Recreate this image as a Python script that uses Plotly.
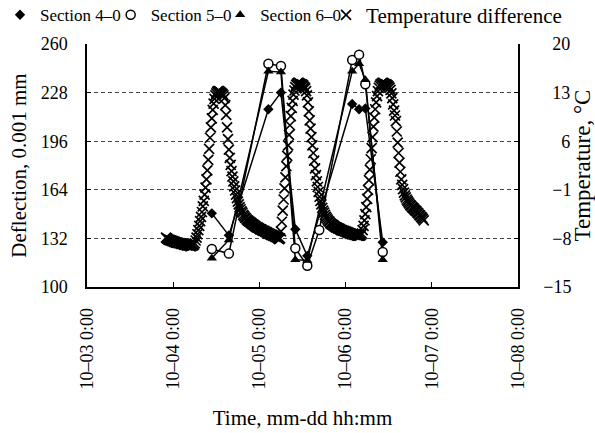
import pandas as pd
import plotly.graph_objects as go

# Temperature difference, 15-min readings starting 10-03 22:00
temp_oct03 = [-7.9, -8.0, -8.1, -8.2, -8.2, -8.3, -8.3, -8.4]
temp_oct04 = [
    -8.4, -8.5, -8.5, -8.6, -8.6, -8.6, -8.7, -8.7,
    -8.7, -8.8, -8.8, -8.8, -8.9, -8.9, -8.9, -9.0,
    -9.0, -9.0, -9.0, -9.1, -9.1, -9.0, -9.0, -8.9,
    -8.7, -8.3, -7.9, -7.4, -6.8, -6.2, -5.5, -4.9,
    -4.2, -3.4, -2.6, -1.7, -0.7, 0.5, 1.8, 3.3,
    4.9, 6.5, 8.0, 9.3, 10.5, 11.4, 12.1, 12.6,
    12.9, 13.1, 13.2, 13.2, 13.1, 13.0, 12.9, 12.8,
    12.6, 12.2, 11.2, 9.8, 8.0, 6.3, 4.8, 3.6,
    2.6, 1.7, 0.9, 0.2, -0.5, -1.1, -1.7, -2.2,
    -2.7, -3.1, -3.5, -3.8, -4.1, -4.3, -4.6, -4.8,
    -5.0, -5.1, -5.3, -5.4, -5.5, -5.6, -5.7, -5.8,
    -5.9, -6.0, -6.1, -6.2, -6.3, -6.4, -6.4, -6.5,
]
temp_oct05 = [
    -6.6, -6.7, -6.7, -6.8, -6.9, -6.9, -7.0, -7.1,
    -7.1, -7.2, -7.3, -7.3, -7.4, -7.5, -7.5, -7.6,
    -7.6, -7.7, -7.8, -7.8, -7.9, -8.0, -8.1, -8.0,
    -7.0, -5.6, -4.0, -2.4, -0.8, 0.8, 2.4, 3.9,
    5.4, 6.9, 8.3, 9.6, 10.8, 11.8, 12.7, 13.3,
    13.8, 14.1, 14.3, 14.4, 14.4, 14.3, 14.2, 14.2,
    14.1, 14.0, 13.8, 13.6, 13.2, 12.6, 11.6, 10.3,
    9.0, 7.8, 6.6, 5.4, 4.3, 3.2, 2.1, 1.1,
    0.2, -0.6, -1.3, -2.0, -2.6, -3.1, -3.6, -4.0,
    -4.3, -4.6, -4.9, -5.1, -5.3, -5.5, -5.6, -5.8,
    -5.9, -6.0, -6.1, -6.2, -6.3, -6.4, -6.4, -6.5,
    -6.6, -6.6, -6.7, -6.8, -6.8, -6.9, -6.9, -7.0,
]
temp_oct06 = [
    -7.0, -7.1, -7.1, -7.2, -7.2, -7.3, -7.3, -7.4,
    -7.4, -7.4, -7.5, -7.5, -7.5, -7.6, -7.6, -7.6,
    -7.6, -7.5, -7.3, -6.8, -6.2, -5.4, -4.5, -3.5,
    -2.3, -1.0, 0.4, 1.9, 3.4, 5.0, 6.6, 8.1,
    9.4, 10.6, 11.6, 12.5, 13.2, 13.7, 14.0, 14.2,
    14.3, 14.4, 14.4, 14.3, 14.2, 14.2, 14.1, 14.0,
    13.9, 13.7, 13.4, 12.9, 12.2, 11.3, 10.4, 9.7,
    8.9, 7.4, 5.8, 4.3, 2.9, 1.6, 0.5, -0.3,
    -0.9, -1.4, -1.8, -2.1, -2.4, -2.6, -2.8, -3.0,
    -3.2, -3.3, -3.5, -3.6, -3.7, -3.9, -4.0, -4.1,
    -4.3, -4.4, -4.6, -4.7, -4.9, -5.0, -5.2, -5.4,
]
temp_diff = temp_oct03 + temp_oct04 + temp_oct05 + temp_oct06
temp_time = pd.date_range("2020-10-03 22:00", periods=len(temp_diff), freq="15min")

# Deflection measurements (0.001 mm)
sec_time = ["2020-10-04 10:45", "2020-10-04 15:30", "2020-10-05 02:30", "2020-10-05 06:00",
            "2020-10-05 10:00", "2020-10-05 13:20", "2020-10-06 01:50", "2020-10-06 03:45",
            "2020-10-06 05:30", "2020-10-06 10:20"]
sec4 = [148.5, 134, 217, 228, 138, 120.5, 220.5, 217, 217.5, 129.5]
sec6 = [119, 131, 242, 241.5, 118, 117.5, 242, 247, 236.5, 118]
sec5_time = ["2020-10-04 10:45", "2020-10-04 15:30", "2020-10-05 02:30", "2020-10-05 06:00",
             "2020-10-05 10:00", "2020-10-05 13:20", "2020-10-05 16:40", "2020-10-06 01:50",
             "2020-10-06 03:45", "2020-10-06 05:30", "2020-10-06 10:20"]
sec5 = [125, 122, 247, 245.5, 125.5, 114, 137.5, 249.5, 253, 233.5, 123]

x_ticks = ["2020-10-03", "2020-10-04", "2020-10-05", "2020-10-06", "2020-10-07", "2020-10-08"]
x_ticktext = ["10\u201303 0:00", "10\u201304 0:00", "10\u201305 0:00", "10\u201306 0:00",
              "10\u201307 0:00", "10\u201308 0:00"]
defl_ticks = [100, 132, 164, 196, 228, 260]
temp_ticks = [-15, -8, -1, 6, 13, 20]
temp_ticktext = ["\u221215", "\u2007\u22128", "\u2007\u22121", "\u2007\u20076", "\u200713", "\u200720"]

FONT = "Liberation Serif"
fig = go.Figure()

fig.add_trace(go.Scatter(
    x=temp_time, y=temp_diff, mode="markers", name="Temperature difference",
    yaxis="y", legend="legend4",
    marker=dict(symbol="x-thin", size=10, line=dict(width=1.7, color="black"), color="black"),
))

sections = [
    ("Section 4\u20130", sec_time, sec4, dict(symbol="diamond", size=8, color="black"), "legend"),
    ("Section 5\u20130", sec5_time, sec5,
     dict(symbol="circle", size=9, color="white", line=dict(color="black", width=1.5)), "legend2"),
    ("Section 6\u20130", sec_time, sec6, dict(symbol="triangle-up", size=9, color="black"), "legend3"),
]
for name, xs, ys, mk, leg in sections:
    fig.add_trace(go.Scatter(
        x=xs, y=ys, mode="lines", yaxis="y2", showlegend=False,
        line=dict(color="black", width=1.5), hoverinfo="skip",
    ))
for name, xs, ys, mk, leg in sections:
    fig.add_trace(go.Scatter(
        x=xs, y=ys, mode="markers", name=name, yaxis="y2", legend=leg, marker=mk,
    ))

leg_common = dict(orientation="h", xref="container", yref="container", xanchor="left",
                  yanchor="middle", y=0.965,
                  bgcolor="rgba(0,0,0,0)", itemwidth=30)
leg_font = dict(family=FONT, size=17, color="black")

fig.update_layout(
    width=595, height=433,
    margin=dict(l=87, r=77, t=44, b=146, autoexpand=False),
    paper_bgcolor="white", plot_bgcolor="white",
    font=dict(family=FONT, size=18, color="black"),
    showlegend=True,
    legend=dict(x=0.0, font=leg_font, **leg_common),
    legend2=dict(x=0.186, font=leg_font, **leg_common),
    legend3=dict(x=0.37, font=leg_font, **leg_common),
    legend4=dict(x=0.548, font=dict(family=FONT, size=21, color="black"), **leg_common),
    xaxis=dict(
        type="date", range=["2020-10-03", "2020-10-08"], automargin=False,
        tickvals=x_ticks, ticktext=x_ticktext, tickangle=-90,
        ticks="inside", ticklen=5, tickcolor="black",
        showline=True, linecolor="black", linewidth=1.5, showgrid=False, zeroline=False,
        ticklabelstandoff=12,
        title=dict(text="Time, mm-dd hh:mm", font=dict(family=FONT, size=21), standoff=22),
    ),
    yaxis=dict(
        side="right", range=[-15, 20], tickvals=temp_ticks, ticktext=temp_ticktext,
        automargin=False,
        ticks="inside", ticklen=4, tickcolor="black",
        showline=True, linecolor="black", linewidth=1.5,
        showgrid=True, gridcolor="#444", griddash="4px,3px", gridwidth=1, zeroline=False,
        ticklabelstandoff=20,
        title=dict(text="Temperature, \u00b0C", font=dict(family=FONT, size=23), standoff=4),
    ),
    yaxis2=dict(
        side="left", overlaying="y", range=[100, 260], tickvals=defl_ticks, automargin=False,
        ticks="inside", ticklen=4, tickcolor="black",
        showline=True, linecolor="black", linewidth=1.5, showgrid=False, zeroline=False,
        ticklabelstandoff=14,
        title=dict(text="Deflection, 0.001 mm", font=dict(family=FONT, size=21), standoff=8),
    ),
)

fig.write_html("out.html")
